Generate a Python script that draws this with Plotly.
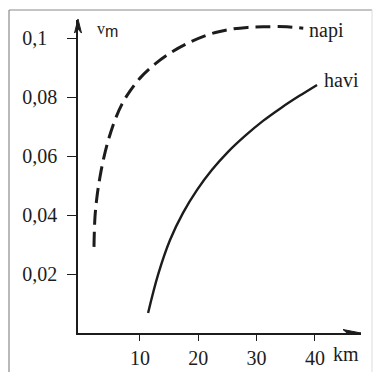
import plotly.graph_objects as go

# --- data ---
napi_x = [2.11, 2.28, 2.62, 3.14, 3.83, 4.68, 5.71, 6.91, 8.28, 10.0, 12.6,
          15.5, 18.6, 21.5, 23.7, 26.0, 28.4, 31.1, 35.2, 38.0]
napi_y = [0.0292, 0.0393, 0.0461, 0.0529, 0.0597, 0.0661, 0.0722, 0.0776, 0.0820,
          0.0864, 0.0912, 0.0953, 0.0986, 0.1010, 0.1022, 0.1031, 0.1036, 0.1038,
          0.1038, 0.1033]

havi_x = [11.39, 13.09, 15.15, 17.38, 19.79, 22.35, 25.10, 28.01, 31.10, 34.19,
          37.27, 40.36]
havi_y = [0.0068, 0.0197, 0.0315, 0.0407, 0.0485, 0.0553, 0.0614, 0.0668, 0.0719,
          0.0763, 0.0803, 0.0841]

x_ticks = [10, 20, 30, 40]
x_tick_labels = ["10", "20", "30", "40"]
y_ticks = [0.02, 0.04, 0.06, 0.08, 0.1]
y_tick_labels = ["0,02", "0,04", "0,06", "0,08", "0,1\u00a0\u00a0"]

series_labels = ["napi", "havi"]

FONT = "Liberation Serif, Times New Roman, serif"
INK = "#1c1c1c"

X_RANGE = [-0.63, 47.9]
Y_RANGE = [0, 0.1061]

fig = go.Figure()
fig.add_trace(go.Scatter(x=napi_x, y=napi_y, mode="lines",
                         line=dict(color=INK, width=3, dash="15px,7px", shape="spline"),
                         hoverinfo="skip", showlegend=False))
fig.add_trace(go.Scatter(x=havi_x, y=havi_y, mode="lines",
                         line=dict(color=INK, width=2.4, shape="spline"),
                         hoverinfo="skip", showlegend=False))

axis_common = dict(showgrid=False, zeroline=False, showline=True, linecolor=INK,
                   linewidth=1.6, ticks="outside", tickcolor=INK, tickwidth=1.4,
                   automargin=False,
                   tickfont=dict(family=FONT, size=20, color=INK))

fig.update_xaxes(range=X_RANGE, tickvals=x_ticks, ticktext=x_tick_labels,
                 ticklen=6, ticklabelstandoff=0, **axis_common)
fig.update_yaxes(range=Y_RANGE, tickvals=y_ticks, ticktext=y_tick_labels,
                 ticklen=9, ticklabelstandoff=6, **axis_common)

# arrowheads at axis ends (pixel-sized paths)
fig.add_shape(type="path", xref="x", yref="y", xsizemode="pixel", ysizemode="pixel",
              xanchor=X_RANGE[1], yanchor=0,
              path="M0,0 L-18,3.5 L-14,0 L-18,-3.5 Z",
              fillcolor=INK, line=dict(color=INK, width=1))
fig.add_shape(type="path", xref="paper", yref="paper", xsizemode="pixel", ysizemode="pixel",
              xanchor=0, yanchor=1.003,
              path="M0,0 L3.5,-14 L0,-10 L-3.5,-14 Z",
              fillcolor=INK, line=dict(color=INK, width=1))

# frame around the figure
fig.add_shape(type="line", xref="paper", yref="paper", x0=-0.2438, x1=-0.2438,
              y0=-0.13, y1=1.0319, line=dict(color="#8a8a8a", width=1.2))
fig.add_shape(type="line", xref="paper", yref="paper", x0=-0.2438, x1=1.0389,
              y0=1.0319, y1=1.0319, line=dict(color="#8a8a8a", width=1.2))
fig.add_shape(type="line", xref="paper", yref="paper", x0=1.0389, x1=1.0389,
              y0=-0.13, y1=1.0319, line=dict(color="#dcdcdc", width=1))

# labels
fig.add_annotation(x=napi_x[-1] + 0.6, y=0.1024, xref="x", yref="y", text=series_labels[0],
                   showarrow=False, xanchor="left", yanchor="middle",
                   font=dict(family=FONT, size=20, color=INK))
fig.add_annotation(x=havi_x[-1] + 0.9, y=0.0858, xref="x", yref="y", text=series_labels[1],
                   showarrow=False, xanchor="left", yanchor="middle",
                   font=dict(family=FONT, size=20, color=INK))
fig.add_annotation(x=2.3, y=0.968, xref="x", yref="paper",
                   text="v<sub><span style='font-family:Liberation Sans;font-size:16px'>m</span></sub>",
                   showarrow=False, xanchor="left", yanchor="middle",
                   font=dict(family=FONT, size=16, color=INK))
fig.add_annotation(x=42.7, y=-0.067, xref="x", yref="paper", text="km",
                   showarrow=False, xanchor="left", yanchor="middle",
                   font=dict(family=FONT, size=20, color=INK))

fig.update_layout(width=379, height=372, margin=dict(l=78, r=18, t=20, b=39),
                  paper_bgcolor="white", plot_bgcolor="white", showlegend=False)

fig.write_html("out.html", config={"displayModeBar": False},
               post_script="document.body.style.margin='0';document.body.style.padding='0';")
